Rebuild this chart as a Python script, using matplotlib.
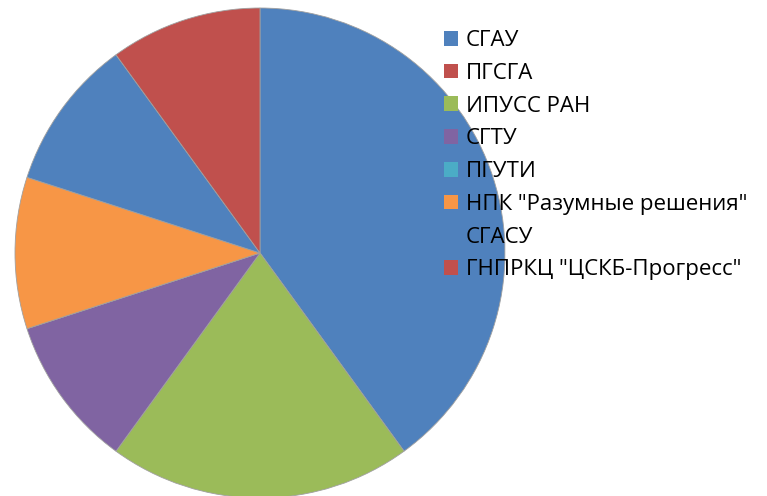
import matplotlib.pyplot as plt
from matplotlib.patches import Patch

labels = ["СГАУ", "ПГСГА", "ИПУСС РАН", "СГТУ", "ПГУТИ",
          'НПК "Разумные решения"', "СГАСУ", 'ГНПРКЦ "ЦСКБ-Прогресс"']
values = [4, 0, 2, 1, 0, 1, 1, 1]
colors = ["#4F81BD", "#C0504D", "#9BBB59", "#8064A2", "#4BACC6",
          "#F79646", "#4F81BD", "#C0504D"]

W, H = 767, 496
fig = plt.figure(figsize=(W / 100, H / 100), dpi=100)
ax = fig.add_axes([0, 0, 1, 1])

ax.pie(values, colors=colors, startangle=90, counterclock=False,
       center=(260, H - 253), radius=245,
       wedgeprops=dict(edgecolor="#a0a0a0", linewidth=0.6))

# pie() resets the limits, so set them afterwards
ax.set_xlim(0, W)
ax.set_ylim(0, H)
ax.set_aspect("equal")
ax.axis("off")

handles = [Patch(facecolor=c, edgecolor="none") for c in colors]
leg = ax.legend(handles, labels, loc="upper left",
                bbox_to_anchor=(444 / W, 1 - 30 / H),
                frameon=False, prop=dict(family="Open Sans", size=16),
                handlelength=0.64, handleheight=0.64, handletextpad=0.35,
                labelspacing=0.53, borderaxespad=0, borderpad=0)
leg.set_zorder(5)

fig.savefig("out.png", dpi=100)
